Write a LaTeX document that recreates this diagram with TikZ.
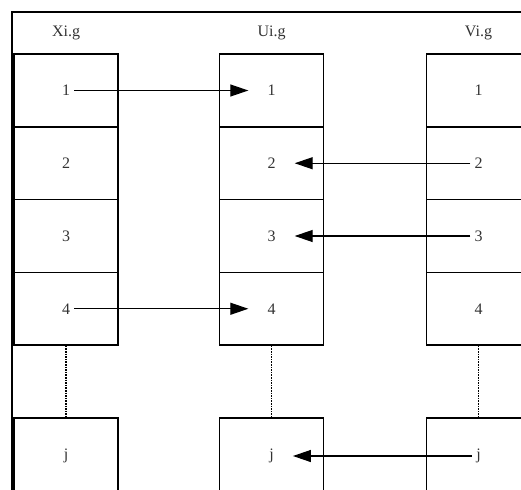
\documentclass[tikz,border=0pt]{standalone}
\usepackage{fontspec}
\setmainfont{Liberation Serif}
\usetikzlibrary{arrows.meta}
\tikzset{
  cell/.style={draw, line width=1.4pt, minimum width=104pt, minimum height=72.75pt, inner sep=0pt},
  num/.style={inner sep=4pt, text=black!80, font=\fontsize{16}{18}\selectfont},
  link/.style={-{Triangle[length=18pt,width=12pt]}, line width=1.2pt, shorten >=15pt},
}
\begin{document}
\begin{tikzpicture}[x=1pt,y=-1pt]
\useasboundingbox (0,0) rectangle (521,489);
\clip (0,0) rectangle (521,489);
\draw[line width=2pt] (12,540) -- (12,12) -- (540,12);
\foreach \c/\x/\t in {x/66/Xi.g, u/271.5/Ui.g, v/478.5/Vi.g}
{
	\node[num] (h\c) at (\x,33) {\t};
	\foreach \r/\y in {1/90.5, 2/163.25, 3/236, 4/308.75}
	{
		\node[cell] (\c\r) at (\x,\y) {};
		\node[num] (l\c\r) at (\x,\y) {\r};
	}
	\node[cell] (\c j) at (\x,454.4) {};
	\node[num] (l\c j) at (\x,456) {j};
	\draw[densely dotted, line width=1.6pt] (\c4.south) -- (\c j.north);
}
\draw[link] (lx1) -- (lu1);
\draw[link] (lv2) -- (lu2);
\draw[link] (lv3) -- (lu3);
\draw[link] (lx4) -- (lu4);
\draw[link] (lvj) -- (luj);
\end{tikzpicture}
\end{document}
